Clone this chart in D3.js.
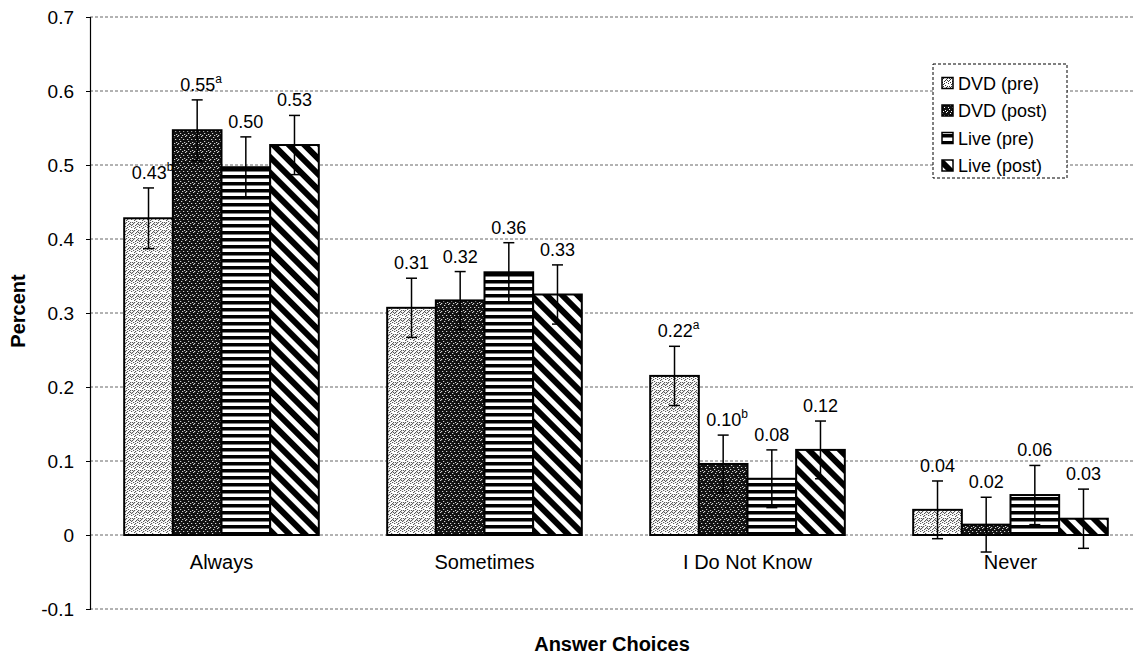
<!DOCTYPE html>
<html>
<head>
<meta charset="utf-8">
<script src="https://cdn.jsdelivr.net/npm/d3@7"></script>
<style>
  body { margin: 0; background: #fff; }
  svg { font-family: "Liberation Sans", Arial, sans-serif; }
</style>
</head>
<body>
<svg id="chart" width="1134" height="660"></svg>
<script>
const categories = ["Always", "Sometimes", "I Do Not Know", "Never"];
const seriesNames = ["DVD (pre)", "DVD (post)", "Live (pre)", "Live (post)"];
const dvdPre   = [0.43, 0.31, 0.22, 0.04];
const dvdPost  = [0.55, 0.32, 0.10, 0.02];
const livePre  = [0.50, 0.36, 0.08, 0.06];
const livePost = [0.53, 0.33, 0.12, 0.03];
// bar heights as drawn
const dvdPreBar   = [0.428, 0.307, 0.215, 0.034];
const dvdPostBar  = [0.547, 0.317, 0.096, 0.014];
const livePreBar  = [0.497, 0.355, 0.076, 0.054];
const livePostBar = [0.527, 0.325, 0.115, 0.022];
const errors = [
  [0.041, 0.040, 0.040, 0.039],
  [0.041, 0.039, 0.039, 0.037],
  [0.041, 0.040, 0.039, 0.040],
  [0.040, 0.040, 0.039, 0.040]
];
const superscripts = [["b", "", "a", ""], ["a", "", "b", ""], ["", "", "", ""], ["", "", "", ""]];
const yTicks = [-0.1, 0, 0.1, 0.2, 0.3, 0.4, 0.5, 0.6, 0.7];
const yTickLabels = ["-0.1", "0", "0.1", "0.2", "0.3", "0.4", "0.5", "0.6", "0.7"];

const labels = [dvdPre, dvdPost, livePre, livePost];
const bars = [dvdPreBar, dvdPostBar, livePreBar, livePostBar];

const svg = d3.select("#chart");
const defs = svg.append("defs");

// Patterns
function stipple(id, bg, fg, dots) {
  const p = defs.append("pattern").attr("id", id).attr("patternUnits", "userSpaceOnUse")
    .attr("width", 8).attr("height", 8);
  p.append("rect").attr("width", 8).attr("height", 8).attr("fill", bg);
  dots.forEach(d => p.append("rect").attr("x", d[0]).attr("y", d[1]).attr("width", 1).attr("height", 1).attr("fill", fg));
}
stipple("pDvdPre", "#fff", "#333", [[0,0],[3,1],[6,0],[1,2],[5,2],[7,3],[2,4],[4,5],[0,6],[6,6],[3,3],[1,7],[5,7],[7,1],[2,6],[4,0]]);
stipple("pDvdPost", "#111", "#fff", [[1,1],[5,0],[3,3],[7,3],[0,5],[4,6],[6,7],[2,7]]);
{
  const p = defs.append("pattern").attr("id", "pLivePre").attr("patternUnits", "userSpaceOnUse")
    .attr("width", 8).attr("height", 7);
  p.append("rect").attr("width", 8).attr("height", 7).attr("fill", "#fff");
  p.append("rect").attr("y", 0).attr("width", 8).attr("height", 3.5).attr("fill", "#000");
}
{
  const p = defs.append("pattern").attr("id", "pLivePost").attr("patternUnits", "userSpaceOnUse")
    .attr("width", 11).attr("height", 11).attr("patternTransform", "rotate(-45)");
  p.append("rect").attr("width", 11).attr("height", 11).attr("fill", "#fff");
  p.append("rect").attr("x", 0).attr("width", 6).attr("height", 11).attr("fill", "#000");
}
const fills = ["url(#pDvdPre)", "url(#pDvdPost)", "url(#pLivePre)", "url(#pLivePost)"];

const x0 = d3.scaleBand().domain(categories).range([90, 1142]).paddingInner(0.26).paddingOuter(0.13);
const x1 = d3.scaleBand().domain(seriesNames).range([0, x0.bandwidth()]);
const y = d3.scaleLinear().domain([-0.1, 0.7]).range([609, 17]);

// gridlines
svg.append("g").selectAll("line").data(yTicks).join("line")
  .attr("x1", 90).attr("x2", 1134)
  .attr("y1", d => y(d)).attr("y2", d => y(d))
  .attr("stroke", "#666").attr("stroke-width", 1).attr("stroke-dasharray", "3,2");

// y axis
const yAxis = d3.axisLeft(y).tickValues(yTicks).tickSize(4).tickFormat((d, i) => yTickLabels[i]);
const ga = svg.append("g").attr("transform", "translate(90,0)").call(yAxis);
ga.select(".domain").attr("stroke", "#000").attr("stroke-width", 1.2);
ga.selectAll("text").attr("font-size", 19).attr("fill", "#000").attr("x", -16)
  .attr("font-family", "Liberation Sans, Arial, sans-serif");

// bars
const groups = svg.append("g").selectAll("g").data(categories).join("g")
  .attr("transform", d => `translate(${x0(d)},0)`);

groups.each(function(cat, ci) {
  const g = d3.select(this);
  seriesNames.forEach((s, si) => {
    const v = bars[si][ci];
    const bx = x1(s), bw = x1.bandwidth();
    g.append("rect").attr("x", bx).attr("width", bw)
      .attr("y", y(Math.max(0, v))).attr("height", Math.abs(y(v) - y(0)))
      .attr("fill", fills[si]).attr("stroke", "#000").attr("stroke-width", 2);
    const e = errors[si][ci];
    const cx = bx + bw / 2;
    g.append("line").attr("x1", cx).attr("x2", cx).attr("y1", y(v + e)).attr("y2", y(v - e))
      .attr("stroke", "#000").attr("stroke-width", 1.5);
    [v + e, v - e].forEach(t => g.append("line").attr("x1", cx - 5.5).attr("x2", cx + 5.5)
      .attr("y1", y(t)).attr("y2", y(t)).attr("stroke", "#000").attr("stroke-width", 1.5));
    const txt = g.append("text").attr("x", cx).attr("y", y(v + e) - 9)
      .attr("text-anchor", "middle").attr("font-size", 18).attr("fill", "#000")
      .text(labels[si][ci].toFixed(2));
    const sup = superscripts[si][ci];
    if (sup) {
      txt.attr("x", cx + 4);
      txt.append("tspan").attr("font-size", 12).attr("dy", -8).text(sup);
    }
  });
});

// category labels
svg.append("g").selectAll("text").data(categories).join("text")
  .attr("x", d => x0(d) + x0.bandwidth() / 2).attr("y", 569)
  .attr("text-anchor", "middle").attr("font-size", 20).text(d => d);

// axis titles
svg.append("text").attr("x", 612).attr("y", 651).attr("text-anchor", "middle")
  .attr("font-size", 20).attr("font-weight", "bold").text("Answer Choices");
svg.append("text").attr("transform", "translate(25,311) rotate(-90)").attr("text-anchor", "middle")
  .attr("font-size", 20).attr("font-weight", "bold").text("Percent");

// legend
const lg = svg.append("g").attr("transform", "translate(933,64)");
lg.append("rect").attr("width", 134).attr("height", 114).attr("fill", "#fff")
  .attr("stroke", "#000").attr("stroke-width", 1).attr("stroke-dasharray", "3,2");
seriesNames.forEach((s, i) => {
  const yy = 19 + i * 27.5;
  lg.append("rect").attr("x", 9).attr("y", yy - 5.5).attr("width", 11).attr("height", 11)
    .attr("fill", fills[i]).attr("stroke", "#000").attr("stroke-width", 1.5);
  lg.append("text").attr("x", 25).attr("y", yy + 6.5).attr("font-size", 18).text(s);
});
</script>
</body>
</html>
